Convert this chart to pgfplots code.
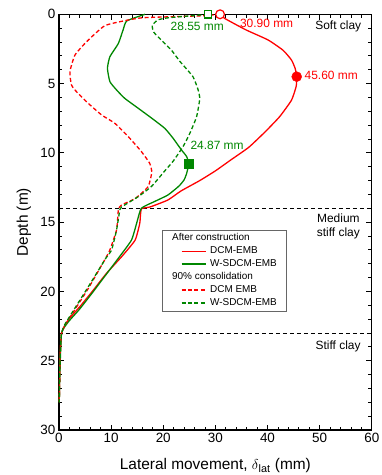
\documentclass[border=0pt]{standalone}
\usepackage{fontspec}
\setmainfont{Liberation Sans}
\usepackage{pgfplots}
\pgfplotsset{compat=1.18}
\definecolor{myred}{RGB}{255,0,0}
\definecolor{mygreen}{RGB}{0,135,0}
\begin{document}
\begin{tikzpicture}
\begin{axis}[
  scale only axis, width=313bp, height=416bp,
  xmin=0, xmax=60, ymin=0, ymax=30, y dir=reverse,
  xtick={0,10,...,60}, ytick={0,5,...,30},
  minor xtick={2,4,...,58}, minor ytick={1,2,...,29},
  tick align=inside, tick pos=both,
  major tick length=5.5bp, minor tick length=3.5bp,
  every tick/.style={black, line width=0.8bp},
  axis line style={line width=1.1bp},
  /pgf/number format/assume math mode=true,
  ticklabel style={font=\fontsize{13.5}{15}\selectfont},
  xlabel={Lateral movement, $\delta$\textsubscript{lat} (mm)},
  ylabel={Depth (m)},
  label style={font=\fontsize{15.5}{18}\selectfont},
  xlabel style={at={(axis description cs:0.5,-0.0945)}, anchor=base},
  ylabel style={at={(axis description cs:-0.1118,0.5)}, anchor=center},
  clip=false,
  legend style={at={(axis cs:19.7,15.57)}, anchor=north west, draw=black!60,
    inner xsep=8bp, inner ysep=2.2bp, row sep=1.6bp, column sep=0bp,
    font=\fontsize{10}{11}\selectfont,
    nodes={inner sep=1bp, text height=7.4bp, text depth=2bp}},
  legend cell align=left,
  legend image code/.code={\path (0bp,0bp); \draw[#1, overlay] (11bp,0bp) -- (36bp,0bp);},
]
% layer boundaries
\addplot[black, line width=0.7bp, dash pattern=on 4bp off 3bp, forget plot] coordinates {(0,14) (60,14)};
\addplot[black, line width=0.7bp, dash pattern=on 4bp off 3bp, forget plot] coordinates {(0,23) (60,23)};
% header 1
\addlegendimage{legend image code/.code={\path (0bp,0bp);}}
\addlegendentry{After construction}
% red solid DCM-EMB after construction
\addplot[draw=myred, line width=1.3bp, solid, smooth, tension=0.3] coordinates {
(30.9,0) (31.8,0.3) (35.9,1.13) (40.1,1.85) (43.0,2.6) (44.6,3.3) (45.3,3.9) (45.6,4.5) (45.5,5.2) (44.6,6.2) (42.3,7.4) (39.5,8.5) (36.4,9.6) (33,10.5) (30,11.3) (27,12.0) (23.4,12.75) (20.9,13.4) (17.5,13.9) (15.8,14.05) (15.5,15.08) (14.6,16.3) (12,17.5) (9.1,18.7) (6.6,19.9) (4.0,21.1) (2.1,21.9) (1.1,22.5) (0.5,23.0) (0.3,24) (0.2,25) (0.15,26) (0.1,27) (0.06,28)};
\addlegendentry{\hspace*{38bp}DCM-EMB}
% green solid W-SDCM-EMB after construction
\addplot[draw=mygreen, line width=1.3bp, solid, smooth, tension=0.3] coordinates {
(16.5,0) (13,0.48) (12.3,1.13) (11.4,2.1) (9.77,3.06) (9.3,3.9) (9.77,4.86) (11.05,5.46) (12.6,6.06) (15.2,6.78) (17.8,7.5) (20.3,8.23) (21.9,8.95) (23.5,9.79) (24.5,10.27) (24.87,10.8) (24.5,11.47) (24.0,11.95) (23.0,12.4) (20.9,13.04) (18.4,13.5) (15.8,14.0) (14.9,15.08) (13.9,16.3) (11.4,17.6) (9.0,18.8) (6.6,20.0) (3.9,21.3) (2.0,22.1) (1.0,22.6) (0.5,23.0) (0.35,24) (0.25,25) (0.15,26) (0.1,27) (0.06,28)};
\addlegendentry{\hspace*{38bp}W-SDCM-EMB}
% header 2
\addlegendimage{legend image code/.code={\path (0bp,0bp);}}
\addlegendentry{90\% consolidation}
% red dashed DCM EMB 90% consolidation
\addplot[draw=myred, line width=1.3bp, dash pattern=on 4bp off 2.5bp, smooth, tension=0.3] coordinates {
(30.9,0) (28,0.1) (22,0.17) (16,0.25) (13.3,0.41) (8.8,0.82) (5.3,1.98) (3.07,2.94) (2.1,4.14) (2.4,5.1) (3.4,5.6) (5.6,6.42) (8.2,7.27) (10.7,7.86) (13.3,8.83) (15.8,9.9) (17.4,10.75) (17.8,11.4) (17.1,12.44) (14.6,13.3) (12,13.76) (11.4,14.1) (11.05,15.56) (9.77,17.0) (8.8,17.7) (5.6,19.8) (3.07,21.3) (1.2,22.4) (0.5,23.0) (0.3,24) (0.2,25) (0.15,26) (0.1,27) (0.06,28)};
\addlegendentry{\hspace*{38bp}DCM EMB}
% green dashed W-SDCM-EMB 90% consolidation
\addplot[draw=mygreen, line width=1.3bp, dash pattern=on 4bp off 2.5bp, smooth, tension=0.3] coordinates {
(28.55,0) (25,0.12) (21,0.25) (19,0.4) (17.9,0.8) (18.2,1.3) (20,2.0) (21.6,2.6) (23.2,3.4) (25.7,4.5) (26.7,5.46) (27,6.1) (26.4,7.39) (25.1,8.59) (23.8,9.55) (21.9,10.6) (20.3,11.3) (17.8,12.4) (15.2,13.16) (12,13.9) (11.7,14.07) (11.05,15.56) (10.1,17.0) (9.0,17.6) (5.4,19.8) (2.9,21.3) (1.1,22.4) (0.5,23.0) (0.3,24) (0.2,25) (0.15,26) (0.1,27) (0.06,28)};
\addlegendentry{\hspace*{38bp}W-SDCM-EMB}
% markers
\addplot[only marks, mark=*, mark size=5bp, myred, forget plot] coordinates {(45.6,4.5)};
\addplot[only marks, mark=square*, mark size=4.5bp, mygreen, forget plot] coordinates {(24.87,10.8)};
\addplot[only marks, mark=square*, mark size=3.7bp, mark options={draw=mygreen, fill=white, line width=1.2bp}, forget plot] coordinates {(28.55,0)};
\addplot[only marks, mark=*, mark size=4.4bp, mark options={draw=myred, fill=white, line width=1.2bp}, forget plot] coordinates {(30.9,0)};
% annotations
\node[anchor=west, inner sep=0pt, text=myred, font=\fontsize{12}{14}\selectfont] at (axis cs:34.7,0.65) {30.90 mm};
\node[anchor=west, inner sep=0pt, text=myred, font=\fontsize{12}{14}\selectfont] at (axis cs:47.1,4.38) {45.60 mm};
\node[anchor=west, inner sep=0pt, text=mygreen, font=\fontsize{12}{14}\selectfont] at (axis cs:21.4,0.89) {28.55 mm};
\node[anchor=west, inner sep=0pt, text=mygreen, font=\fontsize{12}{14}\selectfont] at (axis cs:25.2,9.43) {24.87 mm};
\node[anchor=east, inner sep=0pt, font=\fontsize{12}{14}\selectfont] at (axis cs:58,0.9) {Soft clay};
\node[anchor=center, inner sep=0pt, align=center, font=\fontsize{12}{13.5}\selectfont] at (axis cs:53.6,15.3) {Medium\\stiff clay};
\node[anchor=east, inner sep=0pt, font=\fontsize{12}{14}\selectfont] at (axis cs:57.9,24.0) {Stiff clay};
\end{axis}
\pgfresetboundingbox
\path[use as bounding box] ([shift={(-59bp,-45bp)}]current axis.south west) rectangle ([shift={(10bp,14.3bp)}]current axis.north east);
\end{tikzpicture}
\end{document}
